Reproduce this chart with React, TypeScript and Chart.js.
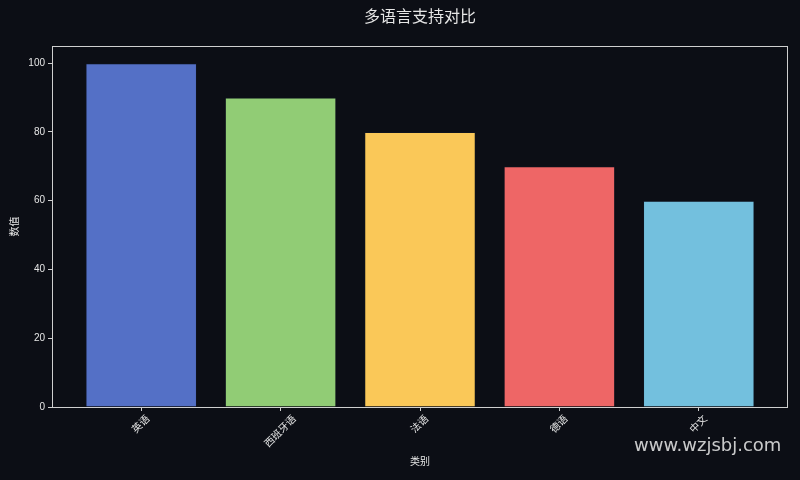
import React, { useEffect, useRef } from "react";
import { Chart, registerables } from "chart.js";

Chart.register(...registerables);

const categories = ["英语", "西班牙语", "法语", "德语", "中文"];
const values = [100, 90, 80, 70, 60];
const barColors = ["#5470c6", "#91cc75", "#fac858", "#ee6666", "#73c0de"];
const yTicks = [0, 20, 40, 60, 80, 100];

const BG = "#0c0e15";
const TEXT = "#e6e6e6";
const FONT = "'Liberation Sans', 'Noto Sans CJK SC', sans-serif";

// draws the title, axis titles, rotated x labels and the box round the plot
const decorations = {
    id: "decorations",
    afterDraw(chart: any) {
        const ctx = chart.ctx;
        const area = chart.chartArea;
        const xs = chart.scales.x;
        ctx.save();

        ctx.strokeStyle = "#cfcfcf";
        ctx.lineWidth = 1;
        ctx.strokeRect(area.left + 0.5, area.top + 0.5, area.right - area.left - 1, area.bottom - area.top);

        ctx.fillStyle = TEXT;
        ctx.textAlign = "center";
        ctx.textBaseline = "middle";
        ctx.font = "16px " + FONT;
        ctx.fillText("多语言支持对比", (area.left + area.right) / 2, 18);

        ctx.font = "10px " + FONT;
        ctx.fillText("类别", (area.left + area.right) / 2, 462);

        ctx.save();
        ctx.translate(15, (area.top + area.bottom) / 2);
        ctx.rotate(-Math.PI / 2);
        ctx.fillText("数值", 0, 0);
        ctx.restore();

        ctx.font = "10px " + FONT;
        categories.forEach((label, i) => {
            const x = xs.getPixelForValue(i);
            const w = ctx.measureText(label).width;
            const h = 10;
            const cy = area.bottom + 7 + ((w + h) * Math.SQRT1_2) / 2;
            ctx.save();
            ctx.translate(x, cy);
            ctx.rotate(-Math.PI / 4);
            ctx.fillText(label, 0, 0);
            ctx.restore();
        });

        ctx.restore();
    },
};

export default function App() {
    const chartRef = useRef<HTMLCanvasElement>(null);

    useEffect(() => {
        if (!chartRef.current) return;
        document.body.style.margin = "0";
        document.body.style.background = BG;

        const chart = new Chart(chartRef.current, {
            type: "bar",
            data: {
                datasets: [
                    {
                        data: values.map((v, i) => ({ x: i, y: v })),
                        backgroundColor: barColors,
                        borderColor: "rgba(20,30,50,0.35)",
                        borderWidth: 1,
                        barPercentage: 0.8,
                        categoryPercentage: 1,
                    },
                ],
            },
            options: {
                animation: false,
                responsive: false,
                maintainAspectRatio: false,
                devicePixelRatio: 1,
                layout: { padding: { top: 46, right: 12, left: 0, bottom: 0 } },
                plugins: {
                    legend: { display: false },
                    tooltip: { enabled: false },
                },
                scales: {
                    x: {
                        type: "linear",
                        min: -0.64,
                        max: 4.64,
                        offset: false,
                        afterBuildTicks: (scale: any) => {
                            scale.ticks = categories.map((_, i) => ({ value: i }));
                        },
                        afterFit: (scale: any) => {
                            scale.height = 73;
                        },
                        ticks: { display: false },
                        grid: {
                            offset: false,
                            drawOnChartArea: false,
                            drawTicks: true,
                            tickLength: 4,
                            tickColor: "#cfcfcf",
                        },
                        border: { display: false },
                    },
                    y: {
                        min: 0,
                        max: 105,
                        afterBuildTicks: (scale: any) => {
                            scale.ticks = yTicks.map((v) => ({ value: v }));
                        },
                        afterFit: (scale: any) => {
                            scale.width = 52;
                        },
                        ticks: {
                            color: TEXT,
                            padding: 3,
                            font: { family: FONT, size: 10 },
                        },
                        grid: {
                            drawOnChartArea: false,
                            drawTicks: true,
                            tickLength: 4,
                            tickColor: "#cfcfcf",
                        },
                        border: { display: false },
                    },
                },
            },
            plugins: [decorations],
        } as any);

        return () => {
            chart.destroy();
        };
    }, []);

    return (
        <div style={{ position: "relative", width: 800, height: 480, background: BG }}>
            <canvas ref={chartRef} width={800} height={480}></canvas>
            <div
                style={{
                    position: "absolute",
                    left: 634,
                    top: 434,
                    fontFamily: "'DejaVu Sans', sans-serif",
                    fontSize: 18,
                    color: "rgba(235,235,235,0.85)",
                    whiteSpace: "nowrap",
                }}
            >
                www.wzjsbj.com
            </div>
        </div>
    );
}
